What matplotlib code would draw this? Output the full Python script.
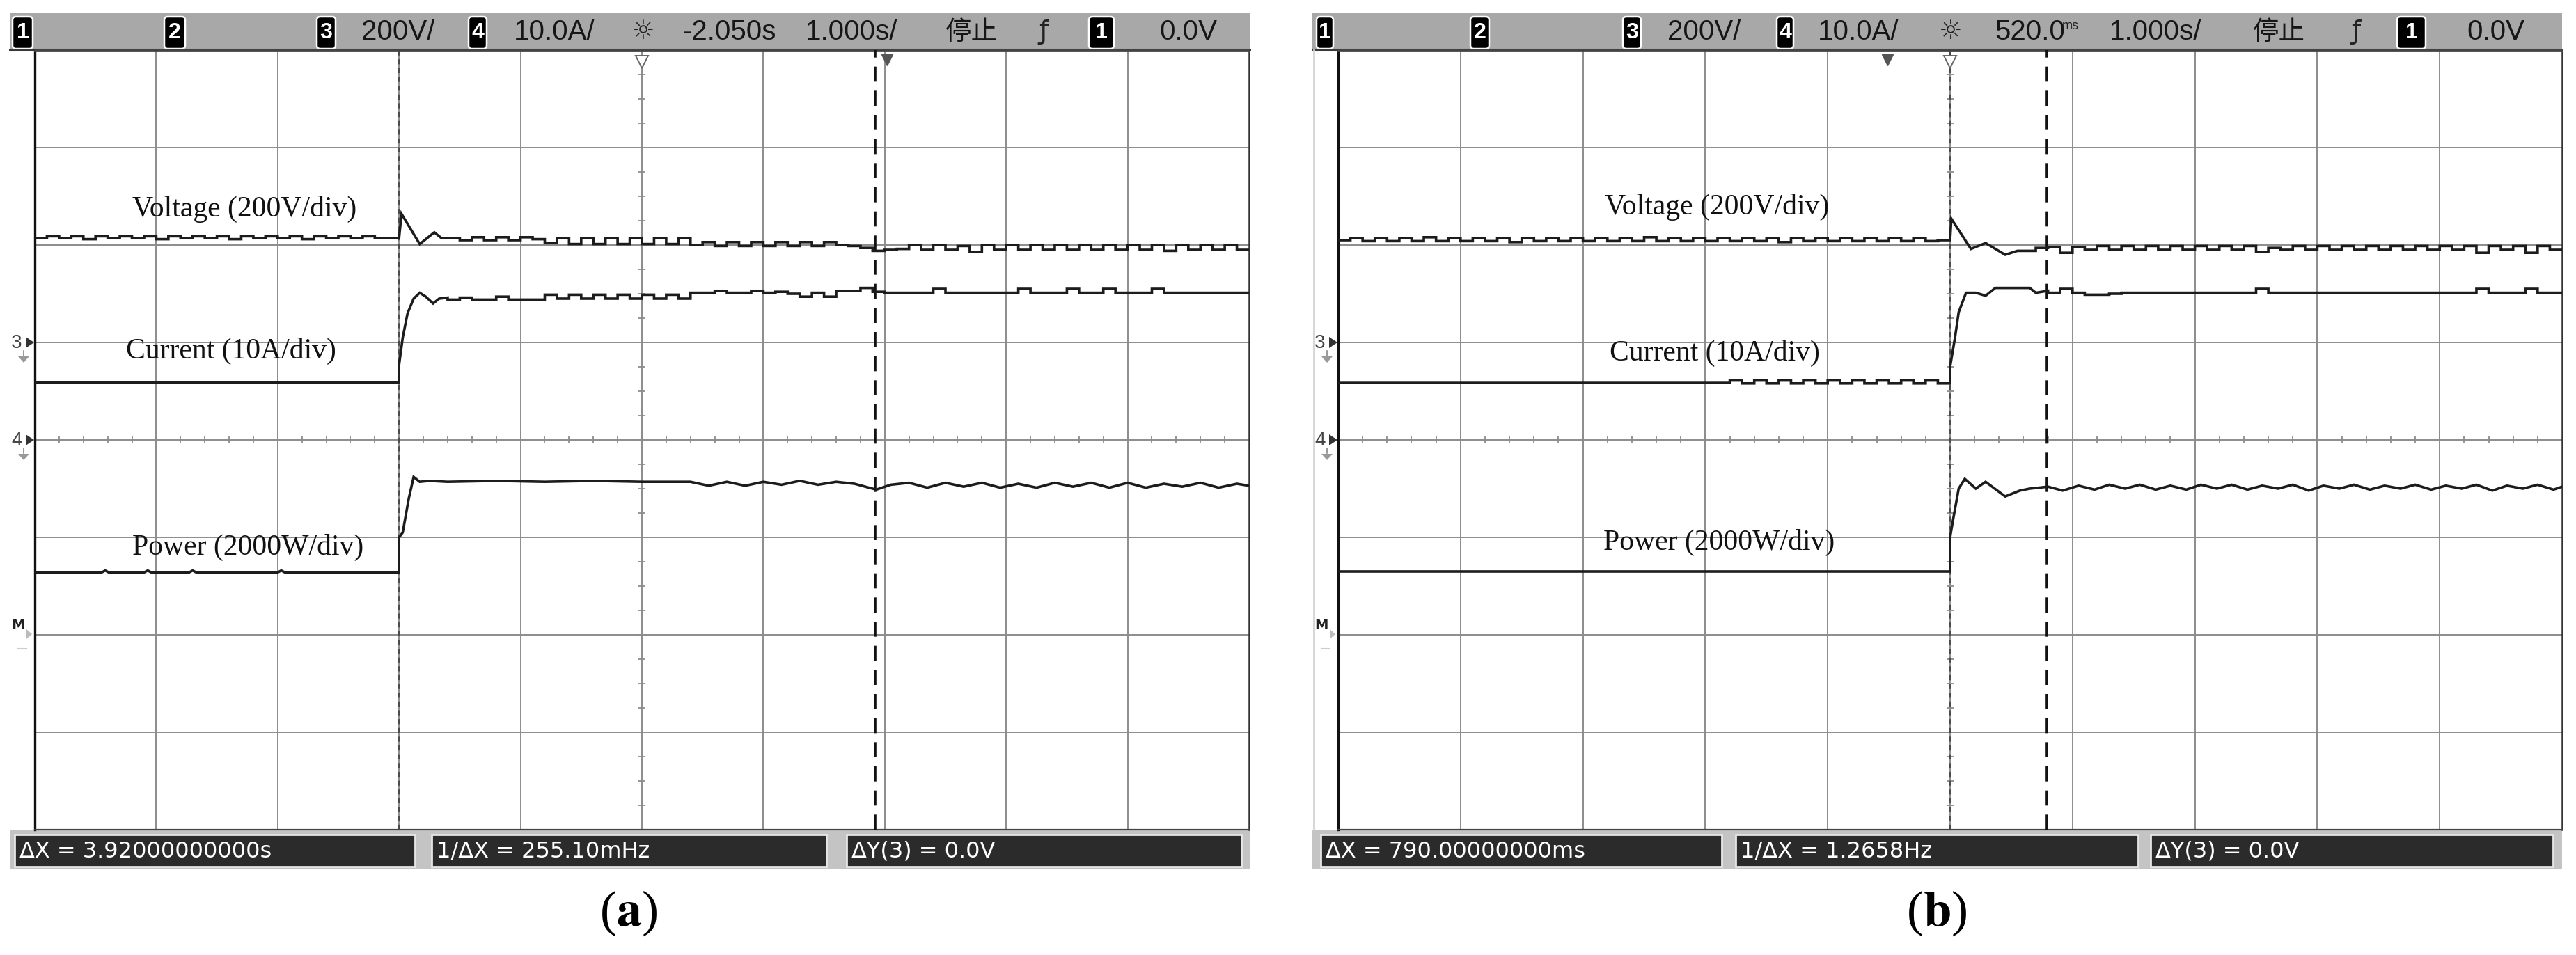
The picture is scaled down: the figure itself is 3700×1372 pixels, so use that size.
import matplotlib
matplotlib.use('Agg')
from matplotlib import pyplot as plt
from matplotlib import font_manager
from matplotlib.patches import Rectangle, FancyBboxPatch, Polygon
import numpy as np

W, H, DPI = 3700, 1372, 100

### 示波器数据, 单位: 格 (x 0..10, y -4..4), 台阶数据每 0.1 格一个电平
# (a)
va_pre = [2.07, 2.09, 2.07, 2.09, 2.06, 2.09, 2.07, 2.09, 2.07, 2.09,
          2.06, 2.09, 2.07, 2.09, 2.07, 2.09, 2.06, 2.09, 2.07, 2.09,
          2.07, 2.09, 2.06, 2.09, 2.07, 2.09, 2.07, 2.09, 2.07, 2.07]
va_step_t = [3.0, 3.02, 3.17, 3.24, 3.29, 3.35]
va_step_y = [2.07, 2.32, 2.01, 2.08, 2.13, 2.07]
va_post = [2.07, 2.05, 2.08, 2.05, 2.08, 2.05, 2.08, 2.06,
           2.02, 2.07, 2.01, 2.07, 2.01, 2.07, 2.01, 2.07, 2.01, 2.07, 2.01, 2.07,
           2.00, 2.03, 1.99, 2.03, 1.99, 2.03, 1.99, 2.03, 1.99, 2.03, 1.99, 2.03, 2.00, 1.99,
           1.97, 1.94,
           1.95, 1.96, 2.00, 1.95, 2.00, 1.95, 1.99, 1.93, 2.00, 1.95,
           2.00, 1.95, 2.00, 1.95, 2.00, 1.95, 2.00, 1.95, 2.00, 1.95,
           2.00, 1.95, 2.00, 1.94, 2.00, 1.95, 2.00, 1.95, 2.00, 1.95]

ca_pre_t = [0.0, 3.0]
ca_pre_y = [0.59, 0.59]
ca_step_t = [3.0, 3.0, 3.03, 3.07, 3.12, 3.17, 3.22, 3.28, 3.33, 3.40]
ca_step_y = [0.59, 0.77, 1.05, 1.30, 1.45, 1.51, 1.47, 1.40, 1.45, 1.46]
ca_post = [1.44, 1.46, 1.44, 1.44, 1.47, 1.44, 1.44, 1.44,
           1.49, 1.45, 1.49, 1.45, 1.49, 1.45, 1.49, 1.45, 1.49, 1.45, 1.49, 1.45,
           1.51, 1.51, 1.53, 1.51, 1.51, 1.53, 1.51, 1.52, 1.50, 1.47, 1.51, 1.47, 1.53, 1.53,
           1.56, 1.52,
           1.51, 1.51, 1.51, 1.51, 1.55, 1.51, 1.51, 1.51, 1.51, 1.51,
           1.51, 1.55, 1.51, 1.51, 1.51, 1.55, 1.51, 1.51, 1.55, 1.51,
           1.51, 1.51, 1.55, 1.51, 1.51, 1.51, 1.51, 1.51, 1.51, 1.51]

pa_pre_t = [0.0, 0.55, 0.58, 0.61, 0.9, 0.93, 0.96, 1.27, 1.30, 1.33, 2.0, 2.03, 2.06, 3.0]
pa_pre_y = [-1.36, -1.36, -1.34, -1.36, -1.36, -1.34, -1.36, -1.36, -1.34, -1.36, -1.36, -1.34, -1.36, -1.36]
pa_step_t = [3.0, 3.0, 3.03, 3.08, 3.12, 3.17, 3.25]
pa_step_y = [-1.36, -1.0, -0.95, -0.60, -0.38, -0.43, -0.42]
pa_post_t = [3.4, 3.8, 4.2, 4.6, 5.0, 5.4,
             5.55, 5.7, 5.85, 6.0, 6.15, 6.3, 6.45, 6.6, 6.75, 6.93,
             7.05, 7.2, 7.35, 7.5, 7.65, 7.8, 7.95, 8.1, 8.25, 8.4,
             8.55, 8.7, 8.85, 9.0, 9.15, 9.3, 9.45, 9.6, 9.75, 9.9, 10.0]
pa_post_y = [-0.43, -0.42, -0.43, -0.42, -0.43, -0.43,
             -0.47, -0.43, -0.47, -0.43, -0.46, -0.42, -0.46, -0.43, -0.45, -0.51,
             -0.46, -0.44, -0.49, -0.44, -0.48, -0.44, -0.49, -0.45, -0.49, -0.44,
             -0.48, -0.44, -0.49, -0.44, -0.49, -0.45, -0.48, -0.44, -0.49, -0.45, -0.47]

# (b)
vb_pre = [2.05, 2.07, 2.04, 2.07, 2.04, 2.07, 2.04, 2.08, 2.04, 2.07,
          2.04, 2.07, 2.04, 2.07, 2.03, 2.07, 2.04, 2.07, 2.04, 2.07,
          2.04, 2.07, 2.04, 2.07, 2.04, 2.08, 2.04, 2.07, 2.04, 2.07,
          2.04, 2.07, 2.04, 2.07, 2.04, 2.07, 2.03, 2.07, 2.04, 2.07,
          2.04, 2.07, 2.04, 2.07, 2.04, 2.07, 2.04, 2.07, 2.04, 2.05]
vb_step_t = [5.0, 5.01, 5.17, 5.29, 5.45, 5.55]
vb_step_y = [2.05, 2.27, 1.96, 2.02, 1.90, 1.94]
vb_post = [1.94, 1.97,
           1.98, 1.92, 1.98, 1.95, 1.99, 1.95, 1.99, 1.95, 1.99, 1.95,
           1.99, 1.95, 1.99, 1.95, 1.99, 1.95, 1.99, 1.93, 1.97, 1.95,
           1.99, 1.95, 1.99, 1.95, 1.99, 1.95, 1.99, 1.95, 1.99, 1.95,
           1.99, 1.95, 1.99, 1.95, 1.99, 1.92, 1.99, 1.95, 1.99, 1.92,
           1.99, 1.95]

cb_pre_t = [0.0, 3.2]
cb_pre_y = [0.585, 0.585]
cb_pre2 = [0.61, 0.58, 0.61, 0.58, 0.61, 0.58, 0.61, 0.58, 0.61,
           0.58, 0.61, 0.58, 0.61, 0.58, 0.61, 0.58, 0.61, 0.58]
cb_step_t = [5.0, 5.0, 5.02, 5.04, 5.07, 5.13, 5.21, 5.29, 5.37, 5.65, 5.70, 5.80]
cb_step_y = [0.58, 0.75, 0.90, 1.05, 1.31, 1.51, 1.51, 1.48, 1.56, 1.56, 1.51, 1.53]
cb_post = [1.51, 1.55, 1.51, 1.49, 1.49, 1.50, 1.51, 1.51, 1.51, 1.51,
           1.51, 1.51, 1.51, 1.51, 1.51, 1.51, 1.51, 1.55, 1.51, 1.51,
           1.51, 1.51, 1.51, 1.51, 1.51, 1.51, 1.51, 1.51, 1.51, 1.51,
           1.51, 1.51, 1.51, 1.51, 1.51, 1.55, 1.51, 1.51, 1.51, 1.55,
           1.51, 1.51]

pb_pre_t = [0.0, 5.0]
pb_pre_y = [-1.35, -1.35]
pb_step_t = [5.0, 5.0, 5.02, 5.07, 5.12, 5.21, 5.29, 5.45, 5.57, 5.65, 5.80]
pb_step_y = [-1.35, -1.0, -0.85, -0.50, -0.40, -0.50, -0.43, -0.58, -0.52, -0.50, -0.48]
pb_post_t = [5.92, 6.05, 6.18, 6.3, 6.43, 6.55, 6.68, 6.8, 6.93, 7.05,
             7.18, 7.3, 7.43, 7.55, 7.68, 7.8, 7.93, 8.05, 8.18, 8.3,
             8.43, 8.55, 8.68, 8.8, 8.93, 9.05, 9.18, 9.3, 9.43, 9.55,
             9.68, 9.8, 9.93, 10.0]
pb_post_y = [-0.52, -0.47, -0.51, -0.46, -0.50, -0.46, -0.51, -0.47, -0.51, -0.46,
             -0.50, -0.46, -0.51, -0.47, -0.50, -0.46, -0.52, -0.47, -0.50, -0.46,
             -0.51, -0.47, -0.50, -0.46, -0.51, -0.47, -0.50, -0.46, -0.52, -0.47,
             -0.50, -0.46, -0.51, -0.48]

# 光标位置 (格)
cursor_a = [3.0, 6.92]
cursor_b = [5.0, 5.79]

# 屏幕文字
head_a = ['200V/', '10.0A/', '-2.050s', '1.000s/', '停止', '0.0V']
head_b = ['200V/', '10.0A/', '520.0', '1.000s/', '停止', '0.0V']
meas_a = ['ΔX = 3.92000000000s', '1/ΔX = 255.10mHz', 'ΔY(3) = 0.0V']
meas_b = ['ΔX = 790.00000000ms', '1/ΔX = 1.2658Hz', 'ΔY(3) = 0.0V']
trace_names = ['Voltage (200V/div)', 'Current (10A/div)', 'Power (2000W/div)']

fonts = {f.name for f in font_manager.fontManager.ttflist}
if 'Liberation Sans Narrow' in fonts:
    NARROW, HEAD_FS = 'Liberation Sans Narrow', 36
elif 'Liberation Sans' in fonts:
    NARROW, HEAD_FS = 'Liberation Sans', 29
else:
    NARROW, HEAD_FS = 'DejaVu Sans', 26
SERIF = 'Liberation Serif' if 'Liberation Serif' in fonts else 'DejaVu Serif'
CJK = ['Noto Sans CJK SC', 'DejaVu Sans']
plt.rcParams['mathtext.fontset'] = 'stix'

GRID = '#8c8c8c'
INK = '#1c1c1c'


def stair(t0, levels, dt=0.1):
    xs, ys = [], []
    for i, v in enumerate(levels):
        xs += [t0 + i * dt, t0 + (i + 1) * dt]
        ys += [v, v]
    return xs, ys


def join(*parts):
    x, y = [], []
    for px, py in parts:
        x += list(px)
        y += list(py)
    return x, y


fig = plt.figure(figsize=(W / DPI, H / DPI), dpi=DPI)
fig.patch.set_facecolor('white')
ov = fig.add_axes([0, 0, 1, 1])
ov.set_xlim(0, W)
ov.set_ylim(H, 0)
ov.axis('off')


def panel(l, r, traces, cursors, label_pos, trig_x, ref_x):
    t, b = 72, 1192
    ax = fig.add_axes([l / W, 1 - b / H, (r - l) / W, (b - t) / H])
    ax.set_xlim(0, 10)
    ax.set_ylim(-4, 4)
    ax.axis('off')
    ax.vlines(range(1, 10), -4, 4, colors=GRID, lw=1.4, zorder=1)
    ax.hlines(range(-3, 4), 0, 10, colors=GRID, lw=1.4, zorder=1)
    xs = np.arange(0.2, 10, 0.2)
    ys = np.arange(-3.75, 4, 0.25)
    ax.plot(xs, np.zeros_like(xs), ls='none', marker='|', ms=7, mew=1.3, color=GRID, zorder=1)
    ax.plot(np.full_like(ys, 5.0), ys, ls='none', marker='_', ms=7, mew=1.3, color=GRID, zorder=1)
    ax.plot([0, 0], [-4, 4], color='#111111', lw=2.4, zorder=2, clip_on=False)
    ax.plot([10, 10], [-4, 4], color='#333333', lw=1.8, zorder=2, clip_on=False)
    ax.plot([0, 10], [-4, -4], color='#444444', lw=1.6, zorder=2, clip_on=False)
    ax.plot([0, 10], [4, 4], color='#444444', lw=2.0, zorder=2, clip_on=False)
    for x, y in traces:
        ax.plot(x, y, color=INK, lw=2.6, zorder=4, solid_joinstyle='miter')
    ax.plot([cursors[0]] * 2, [-4, 4], color='#444444', lw=1.3, dashes=(4, 3), zorder=3)
    ax.plot([cursors[1]] * 2, [-4, 4], color='#111111', lw=2.6, dashes=(6, 3.6), zorder=3)
    for name, (x, y) in zip(trace_names, label_pos):
        ax.text(x, y, name, family=SERIF, fontsize=30, color='#111111', ha='left', va='center', zorder=5)
    ax.plot(trig_x, 3.88, marker='v', ms=13, mfc='white', mec='#666666', mew=1.4, clip_on=False, zorder=6)
    ax.plot(ref_x, 3.9, marker='v', ms=11, color='#555555', clip_on=False, zorder=6)
    return ax


def header(x0, x1, boxes, items, sun_x, edge_x):
    ov.add_patch(Rectangle((x0, 18), x1 - x0, 54, fc='#a8a8a8', ec='none'))
    ov.plot([x0, x1], [71, 71], color='#3a3a3a', lw=2.2)
    for (bx0, bx1), d in zip(boxes, ['1', '2', '3', '4', '1']):
        ov.add_patch(FancyBboxPatch((bx0, 24), bx1 - bx0, 46, boxstyle='round,pad=0,rounding_size=5',
                                    fc='black', ec='white', lw=1.8))
        ov.text((bx0 + bx1) / 2, 47, d, family=NARROW, fontsize=HEAD_FS * 0.8, color='white',
                ha='center', va='center', fontweight='bold')
    for x, s in items:
        ov.text(x, 46, s, family=CJK if s == '停止' else NARROW, fontsize=HEAD_FS if s != '停止' else 27,
                color='#161616', ha='left', va='center')
    ov.text(sun_x, 46, '☼', family='DejaVu Sans', fontsize=27, color='#222222', ha='center', va='center')
    ov.text(edge_x, 46, 'ƒ', family='DejaVu Sans', fontsize=27, color='#222222', ha='center', va='center')


def meas_bar(x0, x1, boxes, texts):
    ov.add_patch(Rectangle((x0, 1193), x1 - x0, 55, fc='#c4c4c4', ec='none'))
    for (bx0, bx1), s in zip(boxes, texts):
        ov.add_patch(Rectangle((bx0, 1199), bx1 - bx0, 46, fc='#2b2b2b', ec='#e6e6e6', lw=2))
        ov.text(bx0 + 7, 1223, s, family='DejaVu Sans', fontsize=23, color='white', ha='left', va='center')


def side_marks(x):
    for d, y in [('3', 492), ('4', 632)]:
        ov.text(x - 26, y + 1, d, family=NARROW, fontsize=20, color='#444444', ha='center', va='center')
        ov.add_patch(Polygon([(x - 13, y - 8), (x - 13, y + 8), (x - 1, y)], fc='#333333', ec='none'))
        ov.plot([x - 16, x - 16], [y + 12, y + 19], color='#888888', lw=1.2)
        ov.add_patch(Polygon([(x - 24, y + 20), (x - 8, y + 20), (x - 16, y + 29)], fc='#999999', ec='none'))
    ov.text(x - 24, 898, 'M', family='DejaVu Sans', fontsize=14, fontweight='bold', color='#222222',
            ha='center', va='center')
    ov.add_patch(Polygon([(x - 12, 904), (x - 12, 918), (x - 4, 911)], fc='#bbbbbb', ec='none'))
    ov.plot([x - 24, x - 12], [932, 932], color='#cccccc', lw=1.5)


# (a)
traces_a = [join(stair(0.0, va_pre), (va_step_t, va_step_y), stair(3.4, va_post)),
            join((ca_pre_t, ca_pre_y), (ca_step_t, ca_step_y), stair(3.4, ca_post)),
            join((pa_pre_t, pa_pre_y), (pa_step_t, pa_step_y), (pa_post_t, pa_post_y))]
panel(50, 1794, traces_a, cursor_a, [(0.80, 2.37), (0.75, 0.91), (0.80, -1.10)], 5.0, 7.02)
header(14, 1795, [(18, 47), (236, 266), (455, 482), (673, 699), (1564, 1600)],
       list(zip([519, 738, 980, 1157, 1358, 1665], head_a)), 924, 1499)
meas_bar(14, 1795, [(21, 596), (620, 1187), (1216, 1783)], meas_a)
side_marks(50)

# (b)
traces_b = [join(stair(0.0, vb_pre), (vb_step_t, vb_step_y), stair(5.6, vb_post)),
            join((cb_pre_t, cb_pre_y), stair(3.2, cb_pre2), (cb_step_t, cb_step_y), stair(5.8, cb_post)),
            join((pb_pre_t, pb_pre_y), (pb_step_t, pb_step_y), (pb_post_t, pb_post_y))]
panel(1922, 3680, traces_b, cursor_b, [(2.18, 2.39), (2.22, 0.89), (2.17, -1.05)], 5.0, 4.49)
header(1885, 3680, [(1891, 1915), (2112, 2139), (2331, 2357), (2552, 2576), (3443, 3484)],
       list(zip([2395, 2611, 2865, 3030, 3236, 3543], head_b)), 2802, 3384)
ov.text(2962, 38, 'ms', family=NARROW, fontsize=13, color='#1e1e1e', ha='left', va='center')
meas_bar(1885, 3680, [(1897, 2473), (2493, 3071), (3089, 3667)], meas_b)
ov.plot([1887, 1887], [72, 1192], color='#d4d4d4', lw=2)
side_marks(1922)

# 子图标号
ov.text(903, 1312, r'($\mathbf{a}$)', family=SERIF, fontsize=52, ha='center', va='center')
ov.text(2782, 1312, r'($\mathbf{b}$)', family=SERIF, fontsize=52, ha='center', va='center')

fig.savefig('out.png', dpi=DPI)
plt.close('all')
